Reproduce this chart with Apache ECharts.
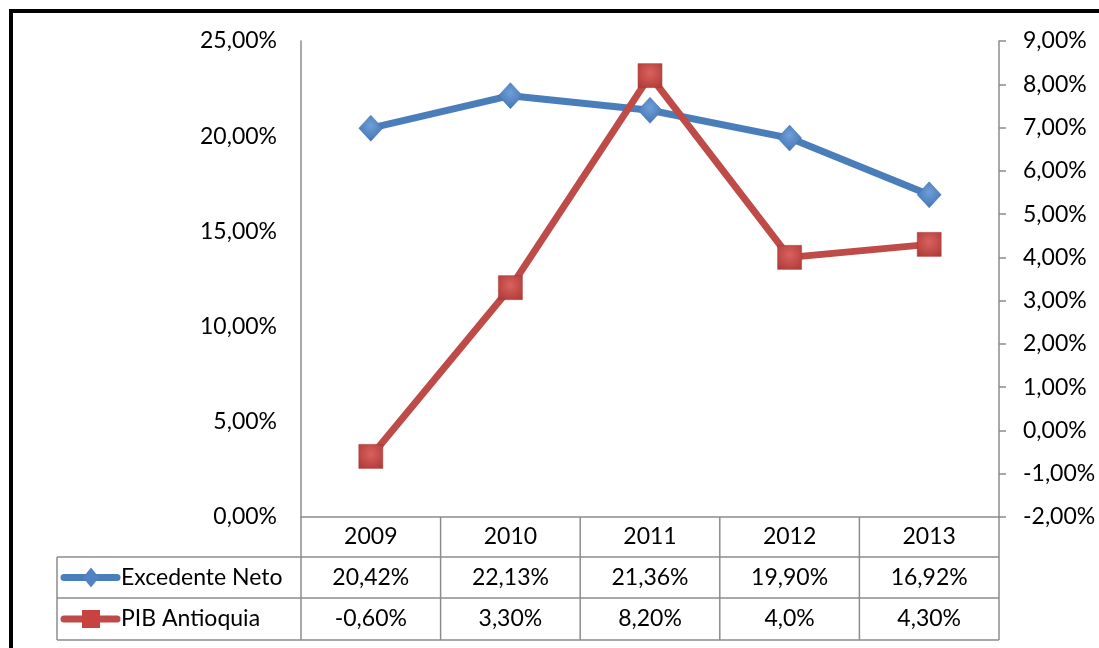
<!DOCTYPE html>
<html><head><meta charset="utf-8">
<script src="https://cdn.jsdelivr.net/npm/echarts@6/dist/echarts.min.js"></script>
<style>html,body{margin:0;padding:0;background:#fff}#c{width:1099px;height:648px}</style>
</head><body><div id="c"></div>
<script>
const years = ['2009', '2010', '2011', '2012', '2013'];
const excedenteNeto = [20.42, 22.13, 21.36, 19.90, 16.92];
const pibAntioquia = [-0.60, 3.30, 8.20, 4.0, 4.30];
const excedenteText = ['20,42%', '22,13%', '21,36%', '19,90%', '16,92%'];
const pibText = ['-0,60%', '3,30%', '8,20%', '4,0%', '4,30%'];
const seriesNames = ['Excedente Neto', 'PIB Antioquia'];
const leftAxis = { min: 0, max: 25, interval: 5 };
const rightAxis = { min: -2, max: 9, interval: 1 };

const FONT = 'Lato';
const FS = 23;
const BLUE = '#4A7EBB';
const RED = '#BE4B48';
const GRID = '#8c8c8c';
const fmt = v => v.toFixed(2).replace('.', ',') + '%';

const chart = echarts.init(document.getElementById('c'), null, { renderer: 'canvas' });
const G = { left: 301, right: 100, top: 41, bottom: 131 };
chart.setOption({
  animation: false,
  backgroundColor: '#fff',
  textStyle: { fontFamily: FONT },
  grid: { left: G.left, right: G.right, top: G.top, bottom: G.bottom, containLabel: false },
  xAxis: {
    type: 'category', data: years, boundaryGap: true,
    axisLine: { show: true, lineStyle: { color: GRID, width: 1.5 } },
    axisTick: { show: false },
    axisLabel: { color: '#000', fontSize: FS, fontFamily: FONT, margin: 8 },
    splitLine: { show: false }
  },
  yAxis: [
    {
      type: 'value', position: 'left', min: leftAxis.min, max: leftAxis.max, interval: leftAxis.interval,
      axisLine: { show: true, lineStyle: { color: GRID, width: 1.5 } },
      axisTick: { show: false },
      axisLabel: { color: '#000', fontSize: FS, fontFamily: FONT, margin: 24, formatter: fmt },
      splitLine: { show: false }
    },
    {
      type: 'value', position: 'right', min: rightAxis.min, max: rightAxis.max, interval: rightAxis.interval,
      axisLine: { show: true, lineStyle: { color: GRID, width: 1.5 } },
      axisTick: { show: true, inside: false, length: 7, lineStyle: { color: GRID, width: 1.5 } },
      axisLabel: { color: '#000', fontSize: FS, fontFamily: FONT, margin: 24, formatter: fmt },
      splitLine: { show: false }
    }
  ],
  series: [
    {
      name: seriesNames[0], type: 'line', yAxisIndex: 0, data: excedenteNeto,
      symbol: 'diamond', symbolSize: [24, 26],
      lineStyle: { color: BLUE, width: 7 },
      itemStyle: { color: new echarts.graphic.RadialGradient(0.5, 0.4, 0.7, [{ offset: 0, color: '#6f9fd8' }, { offset: 1, color: '#3d6eae' }]), borderColor: '#3f6fae', borderWidth: 0.5 },
      z: 3
    },
    {
      name: seriesNames[1], type: 'line', yAxisIndex: 1, data: pibAntioquia,
      symbol: 'rect', symbolSize: [24, 24],
      lineStyle: { color: RED, width: 7 },
      itemStyle: { color: new echarts.graphic.RadialGradient(0.5, 0.4, 0.7, [{ offset: 0, color: '#d9625f' }, { offset: 1, color: '#b03a37' }]), borderColor: '#a63734', borderWidth: 0.5 },
      z: 4
    }
  ]
});

function buildTable() {
  const H = 648;
  const axisY = H - G.bottom;         // 517
  const rowH = [40, 41, 42];
  const r1 = axisY + rowH[0];          // 557
  const r2 = r1 + rowH[1];             // 598
  const r3 = r2 + rowH[2];             // 640
  const tableLeft = 57;
  const plotLeft = G.left, plotRight = 1099 - G.right;
  const band = (plotRight - plotLeft) / years.length;
  const els = [];
  const ls = { stroke: GRID, lineWidth: 1.5 };
  els.push({ type: 'rect', shape: { x: 11, y: 11, width: 1200, height: 800 }, style: { fill: null, stroke: '#000', lineWidth: 4 }, z: 10 });
  for (let i = 0; i <= years.length; i++) {
    const x = plotLeft + i * band;
    els.push({ type: 'line', shape: { x1: x, y1: axisY, x2: x, y2: r3 }, style: ls, z: 5 });
  }
  els.push({ type: 'line', shape: { x1: tableLeft, y1: r1, x2: tableLeft, y2: r3 }, style: ls, z: 5 });
  [r1, r2, r3].forEach(y => els.push({ type: 'line', shape: { x1: tableLeft, y1: y, x2: plotRight, y2: y }, style: ls, z: 5 }));
  const rows = [[excedenteText, r1 + rowH[1] / 2], [pibText, r2 + rowH[2] / 2]];
  rows.forEach(([texts, cy]) => {
    texts.forEach((t, i) => {
      const cx = chart.convertToPixel({ xAxisIndex: 0 }, i);
      els.push({ type: 'text', x: cx, y: cy, style: { text: t, fill: '#000', font: FS + 'px ' + FONT, align: 'center', verticalAlign: 'middle' }, z: 6 });
    });
  });
  const keys = [
    { cy: r1 + rowH[1] / 2, color: BLUE, name: seriesNames[0], sym: 'diamond', mc: '#4f83c4' },
    { cy: r2 + rowH[2] / 2, color: RED, name: seriesNames[1], sym: 'rect', mc: '#c8423f' }
  ];
  keys.forEach(k => {
    els.push({ type: 'line', shape: { x1: 64, y1: k.cy, x2: 117, y2: k.cy }, style: { stroke: k.color, lineWidth: 7, lineCap: 'round' }, z: 6 });
    if (k.sym === 'diamond') {
      els.push({ type: 'polygon', shape: { points: [[91, k.cy - 10], [99, k.cy], [91, k.cy + 10], [83, k.cy]] }, style: { fill: k.mc }, z: 7 });
    } else {
      els.push({ type: 'rect', shape: { x: 82, y: k.cy - 9, width: 18, height: 18 }, style: { fill: k.mc }, z: 7 });
    }
    els.push({ type: 'text', x: 121, y: k.cy, style: { text: k.name, fill: '#000', font: FS + 'px ' + FONT, align: 'left', verticalAlign: 'middle' }, z: 6 });
  });
  chart.setOption({ graphic: { elements: els } });
}
buildTable();
</script></body></html>
